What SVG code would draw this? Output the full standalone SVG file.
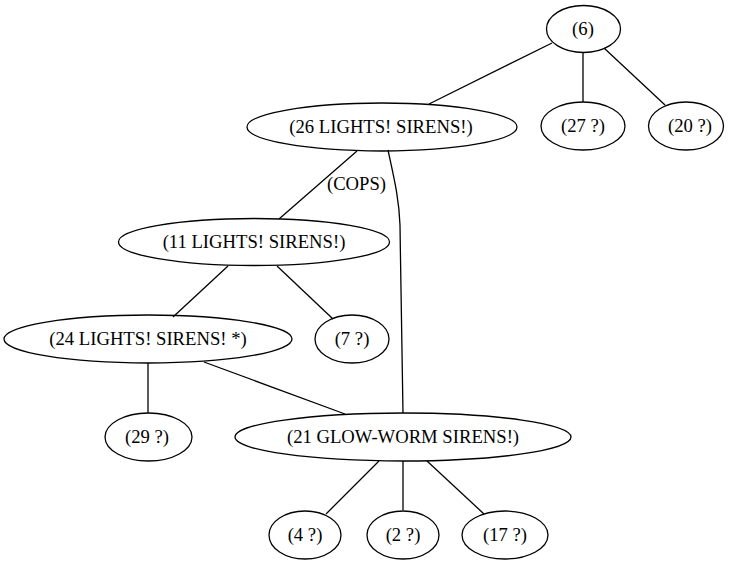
<svg xmlns="http://www.w3.org/2000/svg" width="740" height="564" viewBox="0 0 740 564">
<style>
ellipse{fill:none;stroke:#000;stroke-width:1.3}
text{font-family:'Liberation Serif','Times New Roman',Times,serif;font-size:18.67px;text-anchor:middle;fill:#000}
#edges path{fill:none;stroke:#000;stroke-width:1.3}
</style>
<rect width="740" height="564" fill="#fff"/>
<g id="edges">
<path d="M552,43 L429,104"/>
<path d="M583,52 L583,102"/>
<path d="M604,48 L665,105"/>
<path d="M357,151 L279,219"/>
<path d="M388,150 C394,178 399,198 400,225 C401,300 403,380 403,413"/>
<path d="M228,266 L173,317"/>
<path d="M277,266 L333,319"/>
<path d="M148,363 L148,413"/>
<path d="M204,362 L345,414"/>
<path d="M379,461 L326,514"/>
<path d="M403,461 L403,510"/>
<path d="M427,461 L484,514"/>
<text x="356.5" y="190">(COPS)</text>
</g>
<g id="n6"><ellipse cx="583.5" cy="29" rx="37" ry="23.5"/><text x="583" y="35">(6)</text></g>
<g id="n26"><ellipse cx="382" cy="127" rx="135" ry="24"/><text x="381" y="133">(26 LIGHTS! SIRENS!)</text></g>
<g id="n27"><ellipse cx="583" cy="126" rx="42" ry="24"/><text x="583" y="132">(27 ?)</text></g>
<g id="n20"><ellipse cx="686" cy="126" rx="37.5" ry="24"/><text x="690" y="132">(20 ?)</text></g>
<g id="n11"><ellipse cx="254" cy="242" rx="135.5" ry="23.5"/><text x="254" y="248">(11 LIGHTS! SIRENS!)</text></g>
<g id="n24"><ellipse cx="148" cy="339" rx="144" ry="24"/><text x="148" y="345">(24 LIGHTS! SIRENS! *)</text></g>
<g id="n7"><ellipse cx="352" cy="339" rx="37" ry="24"/><text x="352" y="345">(7 ?)</text></g>
<g id="n29"><ellipse cx="148.5" cy="437" rx="43.5" ry="24"/><text x="147" y="443">(29 ?)</text></g>
<g id="n21"><ellipse cx="403" cy="437" rx="168" ry="24"/><text x="403" y="443">(21 GLOW-WORM SIRENS!)</text></g>
<g id="n4"><ellipse cx="305" cy="535" rx="36" ry="24"/><text x="305" y="541">(4 ?)</text></g>
<g id="n2"><ellipse cx="403" cy="535" rx="36" ry="24"/><text x="403" y="541">(2 ?)</text></g>
<g id="n17"><ellipse cx="505" cy="535" rx="43" ry="24"/><text x="505" y="541">(17 ?)</text></g>
</svg>
